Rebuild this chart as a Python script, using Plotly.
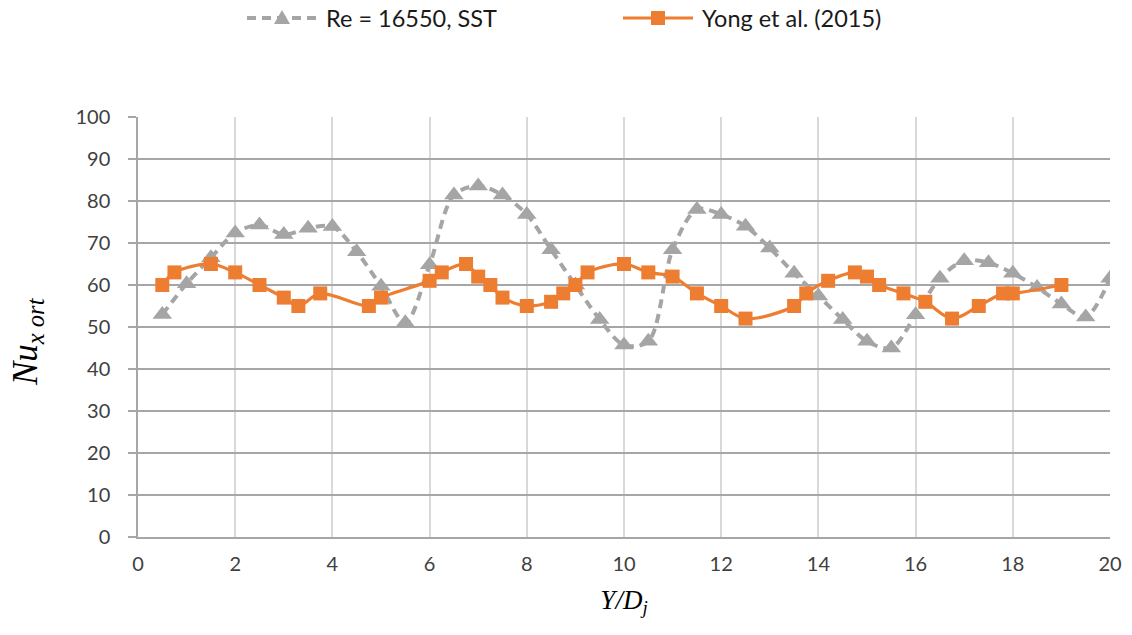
import plotly.graph_objects as go

# SST simulation, Re = 16550
sst_y_dj = [0.5, 1.0, 1.5, 2.0, 2.5, 3.0, 3.5, 4.0, 4.5, 5.0, 5.5, 6.0, 6.5, 7.0,
            7.5, 8.0, 8.5, 9.0, 9.5, 10.0, 10.5, 11.0, 11.5, 12.0, 12.5, 13.0,
            13.5, 14.0, 14.5, 15.0, 15.5, 16.0, 16.5, 17.0, 17.5, 18.0, 18.5,
            19.0, 19.5, 20.0]
sst_nu = [53.0, 60.3, 66.5, 72.4, 74.3, 72.0, 73.5, 73.9, 67.9, 59.7, 51.0, 64.8,
          81.4, 83.6, 81.4, 76.8, 68.4, 60.0, 51.8, 45.7, 46.6, 68.4, 78.0, 76.8,
          74.0, 68.8, 62.8, 57.4, 51.8, 46.6, 45.0, 52.9, 61.6, 65.8, 65.3, 62.8,
          59.4, 55.5, 52.4, 61.6]

# Experimental data, Yong et al. (2015)
exp_y_dj = [0.5, 0.75, 1.5, 2.0, 2.5, 3.0, 3.3, 3.75, 4.75, 5.0, 6.0, 6.25, 6.75,
            7.0, 7.25, 7.5, 8.0, 8.5, 8.75, 9.0, 9.25, 10.0, 10.5, 11.0, 11.5,
            12.0, 12.5, 13.5, 13.75, 14.2, 14.75, 15.0, 15.25, 15.75, 16.2,
            16.75, 17.3, 17.8, 18.0, 19.0]
exp_nu = [60, 63, 65, 63, 60, 57, 55, 58, 55, 57, 61, 63, 65, 62, 60, 57, 55, 56,
          58, 60, 63, 65, 63, 62, 58, 55, 52, 55, 58, 61, 63, 62, 60, 58, 56, 52,
          55, 58, 58, 60]

x_ticks = list(range(0, 21, 2))
y_ticks = list(range(0, 101, 10))

series_names = ["Re = 16550, SST", "Yong et al. (2015)"]

GRAY = "#a5a5a5"
ORANGE = "#ed7d31"
TEXT_FONT = "Lato, Open Sans, sans-serif"
SERIF = "Liberation Serif, serif"

W, H = 1132, 635
M_L, M_R, M_T, M_B = 138, 22, 117, 98
PW, PH = W - M_L - M_R, H - M_T - M_B

def px_x(p):
    """Pixel column -> paper x."""
    return (p - M_L) / PW

def px_y(p):
    """Pixel row -> paper y."""
    return (H - M_B - p) / PH

fig = go.Figure()
fig.add_trace(go.Scatter(
    x=sst_y_dj, y=sst_nu, name=series_names[0], mode="lines+markers",
    line=dict(color=GRAY, width=4, dash="9px,6px", shape="spline", smoothing=0.9),
    marker=dict(symbol="triangle-up", size=17, color=GRAY),
    showlegend=False,
))
fig.add_trace(go.Scatter(
    x=exp_y_dj, y=exp_nu, name=series_names[1], mode="lines+markers",
    line=dict(color=ORANGE, width=3.2, shape="spline", smoothing=0.9),
    marker=dict(symbol="square", size=14, color=ORANGE),
    showlegend=False,
))

# Legend row above the plot: long sample lines with a centred marker
legend_row = 18
legend_items = [
    dict(x0=247, x1=317, color=GRAY, dash="9px,6px", width=4, marker="triangle",
         text_x=324, label=series_names[0]),
    dict(x0=623, x1=693, color=ORANGE, dash="solid", width=3.2, marker="square",
         text_x=700, label=series_names[1]),
]
shapes = []
annotations = []
for it in legend_items:
    yc = px_y(legend_row)
    shapes.append(dict(type="line", xref="paper", yref="paper",
                       x0=px_x(it["x0"]), x1=px_x(it["x1"]), y0=yc, y1=yc,
                       line=dict(color=it["color"], width=it["width"], dash=it["dash"])))
    cx = (it["x0"] + it["x1"]) / 2
    if it["marker"] == "triangle":
        path = "M {:.5f},{:.5f} L {:.5f},{:.5f} L {:.5f},{:.5f} Z".format(
            px_x(cx - 8), px_y(legend_row + 6),
            px_x(cx + 8), px_y(legend_row + 6),
            px_x(cx), px_y(legend_row - 8))
    else:
        path = "M {:.5f},{:.5f} L {:.5f},{:.5f} L {:.5f},{:.5f} L {:.5f},{:.5f} Z".format(
            px_x(cx - 7), px_y(legend_row - 7),
            px_x(cx + 7), px_y(legend_row - 7),
            px_x(cx + 7), px_y(legend_row + 7),
            px_x(cx - 7), px_y(legend_row + 7))
    shapes.append(dict(type="path", xref="paper", yref="paper", path=path,
                       fillcolor=it["color"], line=dict(width=0)))
    annotations.append(dict(xref="paper", yref="paper", x=px_x(it["text_x"]), y=yc,
                            xanchor="left", yanchor="middle", showarrow=False,
                            text=it["label"],
                            font=dict(family=TEXT_FONT, size=23.5, color="#1a1a1a")))

# Vertical axis title, placed slightly below the plot's mid-height
annotations.append(dict(xref="paper", yref="paper", x=px_x(27), y=px_y(342),
                        xanchor="center", yanchor="middle", showarrow=False,
                        textangle=-90,
                        text="<i>Nu</i><sub><i>x ort</i></sub>",
                        font=dict(family=SERIF, size=35, color="#000000")))

fig.update_layout(
    width=W, height=H,
    margin=dict(l=M_L, r=M_R, t=M_T, b=M_B, autoexpand=False),
    plot_bgcolor="white", paper_bgcolor="white",
    font=dict(family=TEXT_FONT, size=20, color="#404040"),
    showlegend=False,
    shapes=shapes,
    annotations=annotations,
    xaxis=dict(
        range=[0, 20], tickvals=x_ticks, ticks="", showline=True,
        linecolor="#a6a6a6", linewidth=1.5,
        showgrid=True, gridcolor="#d9d9d9", gridwidth=1.5, zeroline=False,
        tickfont=dict(family=TEXT_FONT, size=20, color="#404040"),
        ticklabelstandoff=8,
        title=dict(text="<i>Y/D</i><sub><i>j</i></sub>",
                   font=dict(family=SERIF, size=27, color="#000000"),
                   standoff=16),
    ),
    yaxis=dict(
        range=[0, 100], tickvals=y_ticks, ticks="outside", ticklen=8,
        tickcolor="#a6a6a6", tickwidth=1.5, showline=True,
        linecolor="#a6a6a6", linewidth=1.5,
        showgrid=True, gridcolor="#a6a6a6", gridwidth=1.5, zeroline=False,
        tickfont=dict(family=TEXT_FONT, size=20, color="#404040"),
        ticklabelstandoff=14,
    ),
)

fig.write_html("out.html")
